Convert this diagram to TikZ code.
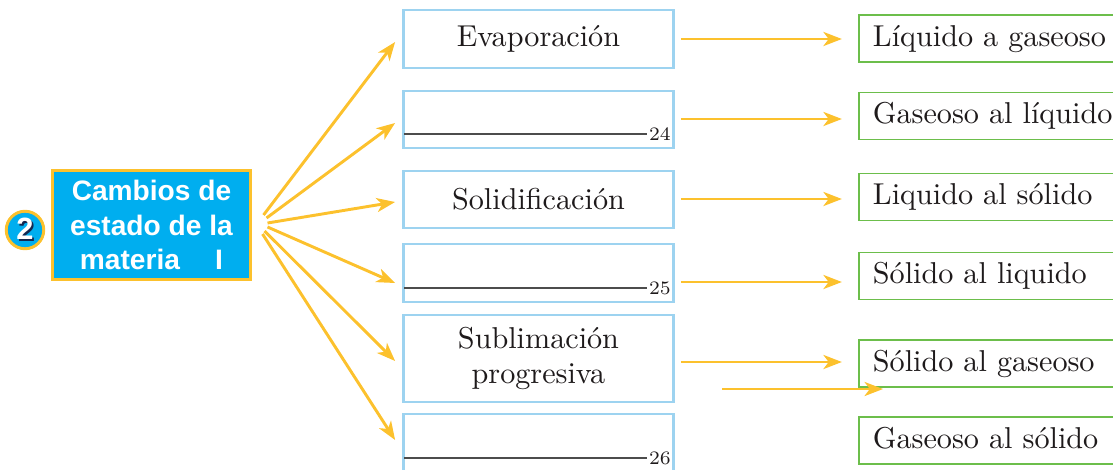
\documentclass[tikz,border=0pt]{standalone}
\usepackage{fontspec}
\setsansfont{Liberation Sans}
\usepackage{tikz}
\usetikzlibrary{arrows.meta, calc, positioning}

\definecolor{amarillo}{RGB}{252,193,45}
\definecolor{celeste}{RGB}{0,174,239}
\definecolor{bordeazul}{RGB}{157,211,240}
\definecolor{verde}{RGB}{108,190,75}
\definecolor{tinta}{RGB}{30,26,27}
\definecolor{marino}{RGB}{20,40,80}

\tikzset{
	flecha/.style={amarillo, line width=1pt, -{Stealth[length=6.3pt, width=4.8pt, inset=1.8pt]}},
	proceso/.style={draw=bordeazul, line width=0.9pt, minimum width=3.24cm, text=tinta, align=center, font=\fontsize{10.3}{11.8}\selectfont},
	estado/.style={draw=verde, line width=0.6pt, anchor=west, minimum height=0.564cm, text width=3.6cm, inner xsep=0.168cm, align=left, text=tinta, text height=7.2pt, text depth=2pt, font=\fontsize{10.3}{11.8}\selectfont},
	raya/.style={draw=black!70, line width=0.5pt},
	numero/.style={anchor=base west, inner sep=0.4pt, yshift=-2.4pt, text=tinta, font=\fontsize{6.5}{7}\selectfont},
}

\begin{document}
\begin{tikzpicture}[x=0.012cm, y=-0.012cm]
	\useasboundingbox (0,0) rectangle (1113,469);
	\clip (0,0) rectangle (1113,469);

	\node[circle, draw=amarillo, fill=celeste, line width=1pt, minimum size=0.45cm, inner sep=0pt, font=\sffamily\bfseries\fontsize{10.5}{10.5}\selectfont] (num) at (25,230) {\makebox[0pt][l]{\hspace{0.6pt}\raisebox{-0.6pt}{\color{marino}2}}\color{white}2};
	\node[draw=amarillo, fill=celeste, line width=1pt, minimum width=2.364cm, minimum height=1.272cm, align=center, text=white, font=\sffamily\bfseries\fontsize{9.6}{11.8}\selectfont] (titulo) at (151.5,225) {Cambios de\\estado de la\\materia\hspace{12pt}I};

	\node[proceso, minimum height=0.696cm] (p1) at (538.5,39) {Evaporación};
	\node[proceso, minimum height=0.684cm] (p2) at (538.5,119.5) {};
	\node[proceso, minimum height=0.684cm] (p3) at (538.5,199.5) {Solidificación};
	\node[proceso, minimum height=0.696cm] (p4) at (538.5,273) {};
	\node[proceso, minimum height=1.044cm] (p5) at (538.5,358.5) {Sublimación\\progresiva};
	\node[proceso, minimum height=0.696cm] (p6) at (538.5,443) {};

	\foreach \i/\n in {2/24,4/25,6/26}
		\draw[raya] ([shift={(2,-15.5)}]p\i.south west) -- ++(243,0) node[numero] {\n};

	\node[estado] (e1) at (858,38.5) {Líquido a gaseoso};
	\node[estado] (e2) at (858,116) {Gaseoso al líquido};
	\node[estado] (e3) at (858,197) {Liquido al sólido};
	\node[estado] (e4) at (858,276) {Sólido al liquido};
	\node[estado] (e5) at (858,363.5) {Sólido al gaseoso};
	\node[estado] (e6) at (858,440.5) {Gaseoso al sólido};

	\foreach \i/\dx/\dy in {1/12/-10, 2/15/-7, 3/16/-2, 4/16/2, 5/13/6, 6/11/9}
		\coordinate (s\i) at ([shift={(\dx,\dy)}]titulo.east);
	\foreach \i/\d in {1/3, 2/3.5, 3/2.5, 4/10, 5/2.5, 6/-3}
		\draw[flecha] (s\i) -- ([shift={(-7,\d)}]p\i.west);

	\foreach \i/\y in {1/39, 2/119, 3/199, 4/282, 5/362}
		\draw[flecha, shorten <=2pt, shorten >=5.5pt] (p\i.east |- 0,\y) -- (e\i.west |- 0,\y);

	\coordinate (a1) at (722,389);
	\coordinate (a2) at (883,389);
	\draw[flecha] (a1) -- (a2);
\end{tikzpicture}
\end{document}
